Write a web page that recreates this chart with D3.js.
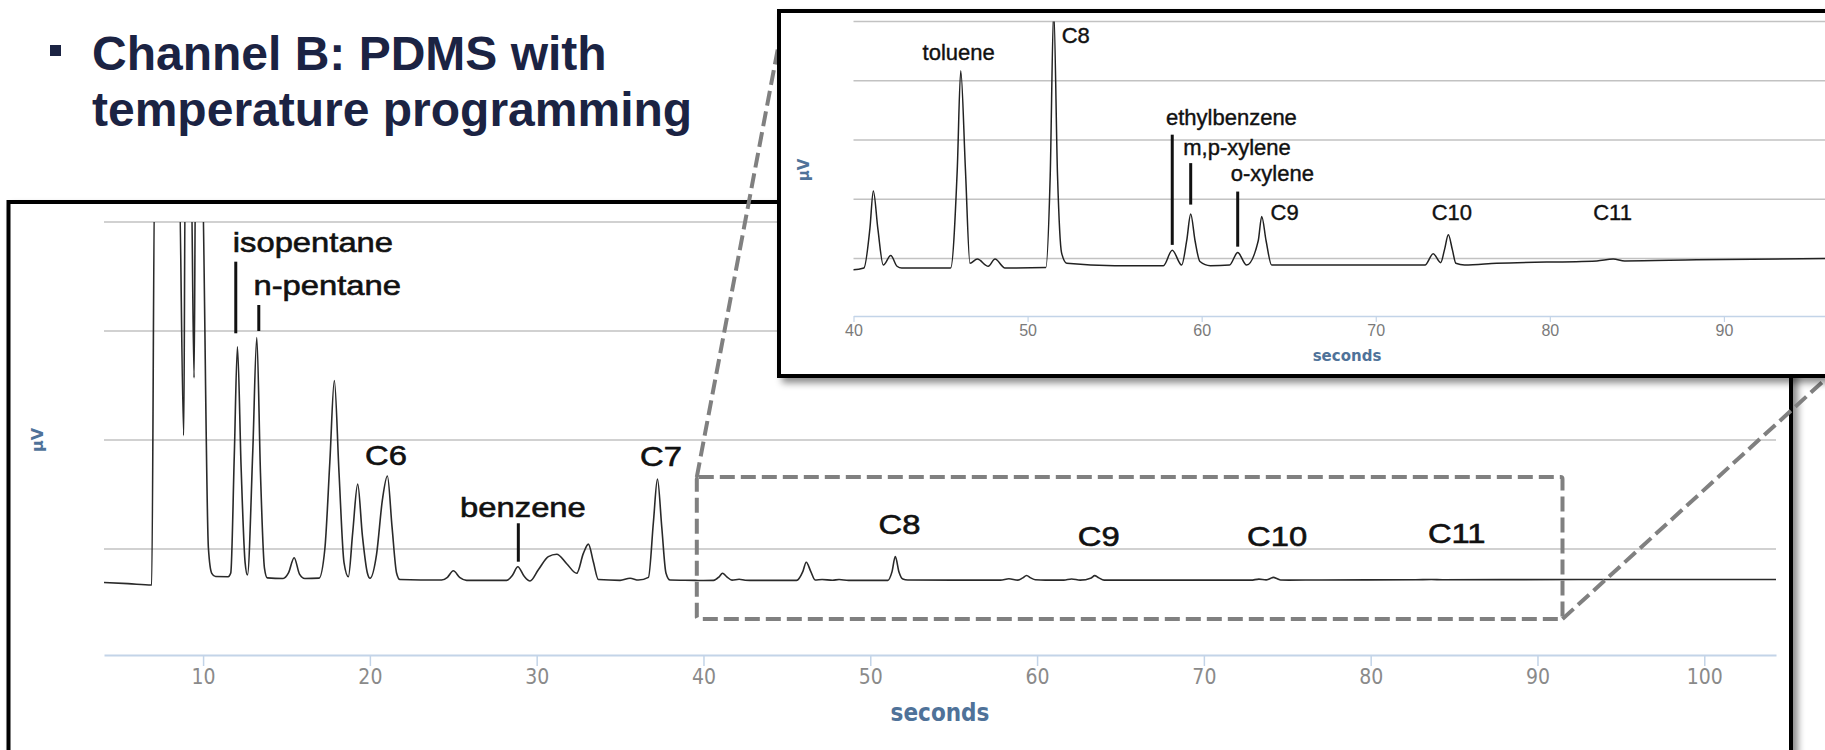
<!DOCTYPE html>
<html>
<head>
<meta charset="utf-8">
<script src="https://cdn.jsdelivr.net/npm/d3@7"></script>
<style>
  body { margin: 0; background: #fff; overflow: hidden; }
</style>
</head>
<body>
<div id="chart"></div>
<script>
// chromatogram trace: [seconds, signal]
// values above 8000 are off-scale (clipped at the top of the plot)
const trace = [
  [4.06,1385],[5.5,1365],[6.92,1340],
  [7.1,9000],[8.55,9000],[8.84,4080],[8.93,9000],[9.28,9000],[9.46,5140],[9.55,9000],[9.92,9000],
  [10.32,2013],[10.52,1554],[10.75,1495],[11.5,1492],[11.66,1560],
  [11.87,3700],[12.06,5710],[12.28,3500],[12.52,1750],[12.66,1523],
  [12.98,3800],[13.22,5880],[13.44,3400],[13.68,1650],[13.85,1470],
  [14.8,1460],[15.12,1560],[15.46,1840],[15.78,1540],[16.1,1460],
  [16.95,1465],[17.3,2000],[17.6,3600],[17.87,5090],[18.15,3400],[18.45,1750],[18.71,1492],
  [18.97,2300],[19.27,3190],[19.55,2250],[19.85,1560],[20.01,1462],
  [20.4,1900],[20.75,2900],[21.05,3340],[21.33,2400],[21.6,1560],[21.8,1440],
  [24.3,1430],[24.65,1480],[25.0,1600],[25.4,1475],[25.8,1425],
  [28.2,1425],[28.55,1520],[28.87,1675],[29.25,1500],[29.6,1413],
  [30.1,1620],[30.7,1860],[31.2,1905],[31.8,1730],[32.4,1554],
  [32.8,1920],[33.1,2090],[33.4,1760],[33.7,1440],
  [35.0,1425],[35.6,1462],[36.1,1430],[36.7,1480],
  [37.0,2500],[37.24,3285],[37.5,2400],[37.75,1560],[38.0,1430],
  [39.5,1424],[40.0,1421],[40.6,1424],[40.94,1490],[41.14,1554],[41.4,1490],[41.71,1429],[42.14,1445],[42.5,1427],[42.77,1424],
  [45.58,1424],[45.96,1590],[46.16,1757],[46.43,1590],[46.69,1432],[47.11,1439],[47.74,1427],[48.13,1439],[48.7,1424],
  [51.05,1425],[51.3,1580],[51.5,1860],[51.72,1580],[51.95,1450],[52.25,1432],
  [55.0,1428],[57.8,1428],[58.31,1454],[58.85,1429],[59.14,1470],[59.37,1515],[59.62,1470],[59.9,1435],[60.5,1428],
  [61.6,1429],[62.07,1450],[62.58,1429],[63.25,1470],[63.45,1511],[63.7,1470],[64.02,1429],
  [67.4,1429],[72.83,1429],[73.3,1448],[73.73,1433],[73.95,1455],[74.17,1480],[74.4,1455],[74.6,1432],[75.1,1429],
  [76.94,1432],[82.7,1436],[83.64,1439],[84.3,1436],[88.43,1438],[95.86,1440],[104.3,1441]
];

const mainTicks = [10, 20, 30, 40, 50, 60, 70, 80, 90, 100];
const insetTicks = [40, 50, 60, 70, 80, 90];
const mainGrid = [2000, 4000, 6000, 8000];
const insetGrid = [1440, 1540, 1640, 1740, 1840];

const titleLines = ["Channel B: PDMS with", "temperature programming"];

// peak names: t = left edge of text, v = baseline
const mainLabels = [
  { name: "isopentane", t: 11.78, v: 7444 },
  { name: "n-pentane", t: 13.02, v: 6661 },
  { name: "C6", t: 19.71, v: 3541 },
  { name: "benzene", t: 25.41, v: 2582 },
  { name: "C7", t: 36.2, v: 3528 },
  { name: "C8", t: 50.5, v: 2275 },
  { name: "C9", t: 62.44, v: 2061 },
  { name: "C10", t: 72.59, v: 2061 },
  { name: "C11", t: 83.43, v: 2105 }
];
const mainMarkers = [
  { t: 11.96, v0: 5958, v1: 7272 },
  { t: 13.34, v0: 6000, v1: 6477 },
  { t: 28.9, v0: 1767, v1: 2472 }
];
const insetLabels = [
  { name: "toluene", t: 43.97, v: 1775 },
  { name: "C8", t: 51.96, v: 1804 },
  { name: "ethylbenzene", t: 57.95, v: 1665 },
  { name: "m,p-xylene", t: 58.94, v: 1615 },
  { name: "o-xylene", t: 61.67, v: 1570 },
  { name: "C9", t: 63.96, v: 1505 },
  { name: "C10", t: 73.21, v: 1505 },
  { name: "C11", t: 82.49, v: 1505 }
];
const insetMarkers = [
  { t: 58.31, v0: 1463, v1: 1649 },
  { t: 59.37, v0: 1531, v1: 1601 },
  { t: 62.07, v0: 1460, v1: 1553 }
];
// region of the main trace that the inset enlarges
const zoomBox = { t0: 39.6, t1: 91.5, v0: 716, v1: 3321 };

const W = 1825, H = 750;
const blue = "#4f7299";
const axisBlue = "#c3d4e8";

let svg = d3.select("#chart").append("svg")
  .attr("width", W).attr("height", H)
  .style("background", "#fff");

let defs = svg.append("defs");
let f = defs.append("filter").attr("id", "shadow")
  .attr("x", "-5%").attr("y", "-5%").attr("width", "120%").attr("height", "130%");
f.append("feDropShadow").attr("dx", 5).attr("dy", 5).attr("stdDeviation", 3.5)
  .attr("flood-color", "#000").attr("flood-opacity", 0.45);

// ---- title ----
svg.append("rect").attr("x", 50).attr("y", 45).attr("width", 11).attr("height", 11).attr("fill", "#1b2343");
svg.selectAll(".title").data(titleLines).enter().append("text")
  .attr("class", "title")
  .attr("x", 92).attr("y", (d, i) => 70 + i * 56)
  .attr("font-family", "Liberation Sans, Arial, sans-serif")
  .attr("font-weight", "bold").attr("font-size", 48)
  .attr("fill", "#1b2343")
  .text(d => d);

// ---- main chart ----
svg.append("rect").attr("x", 8.5).attr("y", 202).attr("width", 1782.5).attr("height", 700)
  .attr("fill", "#fff").attr("stroke", "#000").attr("stroke-width", 4).attr("filter", "url(#shadow)");

let xMain = d3.scaleLinear().domain([4.06, 104.3]).range([104, 1776]);
let yMain = d3.scaleLinear().domain([55, 8000]).range([655, 222]);

defs.append("clipPath").attr("id", "clipMain").append("rect")
  .attr("x", 104).attr("y", 222).attr("width", 1672).attr("height", 433);

let gMain = svg.append("g");
gMain.selectAll(".grid").data(mainGrid).enter().append("line")
  .attr("x1", 104).attr("x2", 1776)
  .attr("y1", d => yMain(d)).attr("y2", d => yMain(d))
  .attr("stroke", "#c2c2c2").attr("stroke-width", 1.5);

let xAxisMain = d3.axisBottom(xMain).tickValues(mainTicks).tickSize(11).tickSizeOuter(0).tickPadding(3);
let gx = gMain.append("g").attr("transform", "translate(0,655)").call(xAxisMain);
gx.select(".domain").attr("stroke", axisBlue).attr("stroke-width", 2);
gx.selectAll(".tick line").attr("stroke", axisBlue).attr("stroke-width", 1.5);
gx.selectAll(".tick text").attr("font-family", "DejaVu Sans Condensed, DejaVu Sans, sans-serif")
  .attr("font-size", 21).attr("fill", "#8a8a8a");

let lineMain = d3.line().x(d => xMain(d[0])).y(d => yMain(d[1])).curve(d3.curveMonotoneX);
gMain.append("path").datum(trace)
  .attr("clip-path", "url(#clipMain)")
  .attr("d", lineMain)
  .attr("fill", "none").attr("stroke", "#2a2a2a").attr("stroke-width", 1.6);

gMain.selectAll(".mlabel").data(mainLabels).enter().append("text")
  .attr("transform", d => "translate(" + xMain(d.t) + "," + yMain(d.v) + ") scale(1.17,1)")
  .attr("font-family", "Liberation Sans, Arial, sans-serif").attr("font-size", 28)
  .attr("fill", "#111").attr("stroke", "#111").attr("stroke-width", 0.6)
  .text(d => d.name);
gMain.selectAll(".mmark").data(mainMarkers).enter().append("line")
  .attr("x1", d => xMain(d.t)).attr("x2", d => xMain(d.t))
  .attr("y1", d => yMain(d.v0)).attr("y2", d => yMain(d.v1))
  .attr("stroke", "#111").attr("stroke-width", 3);

gMain.append("text")
  .attr("transform", "translate(37,440) rotate(-90)")
  .attr("text-anchor", "middle").attr("dominant-baseline", "central")
  .attr("font-family", "DejaVu Sans, sans-serif").attr("font-weight", "bold").attr("font-size", 16)
  .attr("fill", blue).text("μV");
gMain.append("text")
  .attr("x", 940).attr("y", 721).attr("text-anchor", "middle")
  .attr("font-family", "DejaVu Sans Condensed, DejaVu Sans, sans-serif").attr("font-weight", "bold").attr("font-size", 24)
  .attr("fill", blue).text("seconds");

// ---- zoom box and connectors ----
let bx0 = xMain(zoomBox.t0), bx1 = xMain(zoomBox.t1);
let by0 = yMain(zoomBox.v1), by1 = yMain(zoomBox.v0);
let inset = { x: 779, y: 11, w: 1100, h: 365 };
let dash = { stroke: "#808080", width: 4, arr: "15,6" };

svg.append("rect").attr("x", bx0).attr("y", by0).attr("width", bx1 - bx0).attr("height", by1 - by0)
  .attr("rx", 2).attr("fill", "none").attr("stroke", dash.stroke).attr("stroke-width", dash.width)
  .attr("stroke-dasharray", dash.arr);
svg.append("line").attr("x1", bx0).attr("y1", by0).attr("x2", inset.x + 6).attr("y2", inset.y)
  .attr("stroke", dash.stroke).attr("stroke-width", dash.width).attr("stroke-dasharray", dash.arr);
svg.append("line").attr("x1", bx1).attr("y1", by1).attr("x2", inset.x + 1050).attr("y2", inset.y + inset.h)
  .attr("stroke", dash.stroke).attr("stroke-width", dash.width).attr("stroke-dasharray", dash.arr);

// ---- inset chart ----
let gIn = svg.append("g");
gIn.append("rect").attr("x", inset.x).attr("y", inset.y).attr("width", inset.w).attr("height", inset.h)
  .attr("fill", "#fff").attr("stroke", "#000").attr("stroke-width", 4).attr("filter", "url(#shadow)");

let xIn = d3.scaleLinear().domain([40, 100]).range([853.5, 1898]);
let yIn = d3.scaleLinear().domain([1343, 1840]).range([316, 21.5]);

defs.append("clipPath").attr("id", "clipInset").append("rect")
  .attr("x", 853.5).attr("y", 21.5).attr("width", 1000).attr("height", 294.5);

gIn.selectAll(".igrid").data(insetGrid).enter().append("line")
  .attr("x1", 853.5).attr("x2", W)
  .attr("y1", d => yIn(d)).attr("y2", d => yIn(d))
  .attr("stroke", "#c2c2c2").attr("stroke-width", 1.5);

let xAxisIn = d3.axisBottom(xIn).tickValues(insetTicks).tickSize(6).tickSizeOuter(0).tickPadding(3);
let gxi = gIn.append("g").attr("transform", "translate(0,316)").call(xAxisIn);
gxi.select(".domain").attr("stroke", axisBlue).attr("stroke-width", 1.5);
gxi.selectAll(".tick line").attr("stroke", axisBlue).attr("stroke-width", 1.2);
gxi.selectAll(".tick text").attr("font-family", "Liberation Sans, Arial, sans-serif")
  .attr("font-size", 16).attr("fill", "#7a7a7a");

let lineIn = d3.line().x(d => xIn(d[0])).y(d => yIn(d[1])).curve(d3.curveMonotoneX);
gIn.append("path").datum(trace.filter(d => d[0] >= 39.5))
  .attr("clip-path", "url(#clipInset)")
  .attr("d", lineIn)
  .attr("fill", "none").attr("stroke", "#222").attr("stroke-width", 1.5);

gIn.selectAll(".ilabel").data(insetLabels).enter().append("text")
  .attr("x", d => xIn(d.t)).attr("y", d => yIn(d.v))
  .attr("font-family", "Liberation Sans, Arial, sans-serif").attr("font-size", 22)
  .attr("fill", "#111").attr("stroke", "#111").attr("stroke-width", 0.4)
  .text(d => d.name);
gIn.selectAll(".imark").data(insetMarkers).enter().append("line")
  .attr("x1", d => xIn(d.t)).attr("x2", d => xIn(d.t))
  .attr("y1", d => yIn(d.v0)).attr("y2", d => yIn(d.v1))
  .attr("stroke", "#111").attr("stroke-width", 3);

gIn.append("text")
  .attr("transform", "translate(804,170) rotate(-90)")
  .attr("text-anchor", "middle").attr("dominant-baseline", "central")
  .attr("font-family", "DejaVu Sans, sans-serif").attr("font-weight", "bold").attr("font-size", 15)
  .attr("fill", blue).text("μV");
gIn.append("text")
  .attr("x", 1347).attr("y", 361).attr("text-anchor", "middle")
  .attr("font-family", "DejaVu Sans, sans-serif").attr("font-weight", "bold").attr("font-size", 15)
  .attr("fill", blue).text("seconds");
</script>
</body>
</html>
